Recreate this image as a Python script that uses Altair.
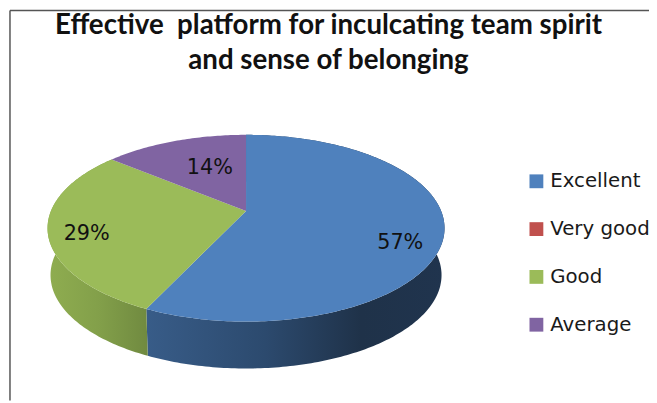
import math
import altair as alt
import pandas as pd

categories = ["Excellent", "Very good", "Good", "Average"]
values = [57, 0, 29, 14]
labels = ["57%", "", "29%", "14%"]
colors = ["#4F81BD", "#C0504D", "#9BBB59", "#8064A2"]
title_lines = ["Effective\u00a0 platform for inculcating team spirit", "and sense of belonging"]

W, H = 649, 395
CX, CY = 241, 203      # image of the pie centre, in plot pixels
A, B, K = 197.5, 91.3, 0.185
DEPTH, SHRINK = 47.5, 0.985


def project(frac, r=1.0):
    th = 2 * math.pi * frac
    u, v = r * math.sin(th), r * math.cos(th)
    w = 1 + K * v
    return A * u / w, B * v / w


rows, walls = [], []
cum = 0.0
total = sum(values)
for cat, val in zip(categories, values):
    a0, a1 = cum / total, (cum + val) / total
    cum += val
    n = max(2, int(val * 4))
    rim = [project(a0 + (a1 - a0) * i / n) for i in range(n + 1)]
    poly = [(0.0, 0.0)] + rim
    for s, (x, y) in enumerate(poly):
        rows.append({"cat": cat, "s": s, "x": CX + x, "y": CY - y})
    if val:
        wall = [(CX + x, CY - y) for x, y in rim] + [
            (CX + x * SHRINK, CY - y + DEPTH) for x, y in reversed(rim)
        ]
        for s, (x, y) in enumerate(wall):
            walls.append({"cat": cat, "s": s, "x": x, "y": y})

df = pd.DataFrame(rows)
wf = pd.DataFrame(walls)

xs = alt.X("x:Q", scale=alt.Scale(domain=[0, W]), axis=None)
ys = alt.Y("y:Q", scale=alt.Scale(domain=[0, H], reverse=True), axis=None)
order = alt.Order("s:Q")


def wall_layer(cat, stops):
    grad = alt.Gradient(
        gradient="linear", x1=0, x2=1, y1=0, y2=0,
        stops=[alt.GradientStop(offset=o, color=c) for o, c in stops],
    )
    return (
        alt.Chart(wf[wf.cat == cat])
        .mark_line(fill=grad, strokeWidth=0, interpolate="linear")
        .encode(x=xs, y=ys, order=order)
    )


blue_wall = wall_layer("Excellent", [(0, "#385C88"), (0.4, "#2C4A6E"), (0.72, "#1F3249"), (1, "#20344E")])
green_wall = wall_layer("Good", [(0, "#8FAD50"), (0.5, "#83A04A"), (1, "#708A40")])

top = (
    alt.Chart(df)
    .mark_line(strokeWidth=0, filled=True)
    .encode(
        x=xs,
        y=ys,
        order=order,
        detail="cat:N",
        fill=alt.Fill(
            "cat:N",
            scale=alt.Scale(domain=categories, range=colors),
            legend=alt.Legend(
                title=None,
                orient="none",
                legendX=525,
                legendY=163,
                symbolType="square",
                symbolSize=196,
                symbolStrokeWidth=0,
                symbolOpacity=1,
                labelFont="DejaVu Sans",
                labelFontSize=20,
                labelColor="#1a1a1a",
                labelOffset=4,
                rowPadding=28.4,
                padding=0,
                labelLimit=200,
            ),
        ),
    )
)


def text_layer(i, dx, dy, r):
    frac = (sum(values[:i]) + values[i] / 2) / total
    x, y = project(frac, r)
    return (
        alt.Chart(pd.DataFrame([{"x": CX + x, "y": CY - y, "t": labels[i]}]))
        .mark_text(font="DejaVu Sans", fontSize=21, color="#111111", dx=dx, dy=dy)
        .encode(x=xs, y=ys, text="t:N")
    )


texts = [text_layer(0, 3, 17, 0.77), text_layer(2, -2, 7, 0.8), text_layer(3, 16, 8, 0.7)]

border_top = alt.Chart(df.head(1)).mark_rule(color="#555555", strokeWidth=1.5).encode(
    x=alt.value(2), x2=alt.value(W), y=alt.value(0)
)
border_left = alt.Chart(df.head(1)).mark_rule(color="#555555", strokeWidth=1.5).encode(
    x=alt.value(2), y=alt.value(0), y2=alt.value(H)
)

chart = (
    alt.layer(blue_wall, green_wall, top, *texts, border_top, border_left)
    .properties(
        width=W,
        height=H,
        padding=0,
        autosize=alt.AutoSizeParams(type="none"),
        background="white",
        title=alt.TitleParams(
            text=title_lines,
            font="Lato",
            fontSize=28,
            fontWeight="bold",
            color="#111111",
            anchor="middle",
            lineHeight=35,
            baseline="top",
            offset=0,
            dy=66,
        ),
    )
    .configure_view(stroke=None)
)

chart.save("out.html", embed_options={"renderer": "svg", "actions": False})
